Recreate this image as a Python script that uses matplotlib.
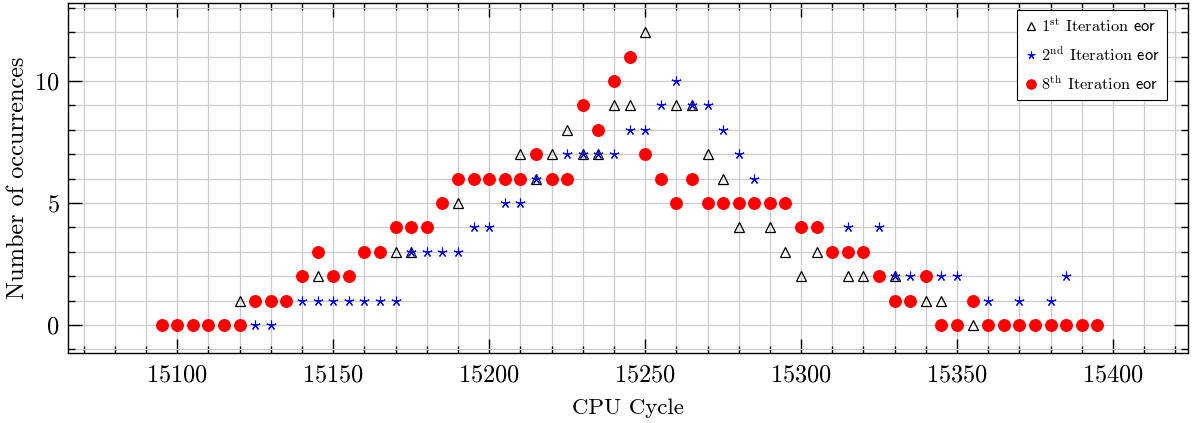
import numpy as np
import matplotlib
matplotlib.use('Agg')
import matplotlib.pyplot as plt
from matplotlib.ticker import MultipleLocator

# 1st iteration (triangles), visible points only
cyc1 = [15120, 15145, 15170, 15175, 15190, 15210, 15215, 15220, 15225, 15230,
        15235, 15240, 15245, 15250, 15260, 15265, 15270, 15275, 15280, 15290,
        15295, 15300, 15305, 15315, 15320, 15330, 15340, 15345, 15355]
occ1 = [1, 2, 3, 3, 5, 7, 6, 7, 8, 7,
        7, 9, 9, 12, 9, 9, 7, 6, 4, 4,
        3, 2, 3, 2, 2, 2, 1, 1, 0]

# 2nd iteration (stars)
cyc2 = [15125, 15130, 15140, 15145, 15150, 15155, 15160, 15165, 15170, 15175,
        15180, 15185, 15190, 15195, 15200, 15205, 15210, 15215, 15225, 15230,
        15235, 15240, 15245, 15250, 15255, 15260, 15265, 15270, 15275, 15280,
        15285, 15315, 15325, 15330, 15335, 15345, 15350, 15360, 15370, 15380,
        15385]
occ2 = [0, 0, 1, 1, 1, 1, 1, 1, 1, 3,
        3, 3, 3, 4, 4, 5, 5, 6, 7, 7,
        7, 7, 8, 8, 9, 10, 9, 9, 8, 7,
        6, 4, 4, 2, 2, 2, 2, 1, 1, 1,
        2]

# 8th iteration (red circles), 15095..15395 every 5 cycles
cyc8 = list(range(15095, 15400, 5))
occ8 = [0, 0, 0, 0, 0, 0, 1, 1, 1, 2,
        3, 2, 2, 3, 3, 4, 4, 4, 5, 6,
        6, 6, 6, 6, 7, 6, 6, 9, 8, 10,
        11, 7, 6, 5, 6, 5, 5, 5, 5, 5,
        5, 4, 4, 3, 3, 3, 2, 1, 1, 2,
        0, 0, 1, 0, 0, 0, 0, 0, 0, 0,
        0]

plt.rcParams['font.family'] = 'serif'
plt.rcParams['font.serif'] = ['cmr10']
plt.rcParams['mathtext.fontset'] = 'cm'
plt.rcParams['axes.formatter.use_mathtext'] = True
plt.rcParams['axes.unicode_minus'] = False

fig = plt.figure(figsize=(11.92, 4.23), dpi=100)
ax = fig.add_axes([0.057, 0.1655, 0.9396, 0.8274])

ax.plot(cyc1, occ1, '^', mfc='none', mec='black', ms=7, mew=0.9,
        label=r'$1^{\mathrm{st}}$ Iteration $\mathsf{eor}$')
ax.plot(cyc2, occ2, marker=(5, 2, 0), ls='none', color='blue', ms=7, mew=0.8,
        label=r'$2^{\mathrm{nd}}$ Iteration $\mathsf{eor}$')
ax.plot(cyc8, occ8, 'o', color='red', ms=8.3,
        label=r'$8^{\mathrm{th}}$ Iteration $\mathsf{eor}$')

ax.set_xlim(15065, 15424)
ax.set_ylim(-1.15, 13.2)
ax.xaxis.set_major_locator(MultipleLocator(50))
ax.xaxis.set_minor_locator(MultipleLocator(10))
ax.yaxis.set_major_locator(MultipleLocator(5))
ax.yaxis.set_minor_locator(MultipleLocator(1))
ax.grid(True, which='both', color='#cccccc', lw=0.9)
ax.set_axisbelow(True)
ax.tick_params(which='both', direction='in', top=True, right=True, labelsize=17.5)
ax.tick_params(axis='x', pad=8)
ax.tick_params(axis='y', pad=6)
ax.tick_params(which='major', length=10, width=1)
ax.tick_params(which='minor', length=5, width=1)
for s in ax.spines.values():
    s.set_linewidth(1)

ax.set_xlabel('CPU Cycle', fontsize=16.5, labelpad=9)
ax.set_ylabel('Number of occurrences', fontsize=17.5, labelpad=4)

leg = ax.legend(loc='upper right', fontsize=11.8, fancybox=False, edgecolor='black',
                framealpha=1, handletextpad=0.2, handlelength=0.8, borderpad=0.45,
                labelspacing=0.65, borderaxespad=0, markerscale=0.8,
                bbox_to_anchor=(0.981, 0.98))
leg.get_frame().set_linewidth(0.8)

fig.savefig('out.png', dpi=100)
